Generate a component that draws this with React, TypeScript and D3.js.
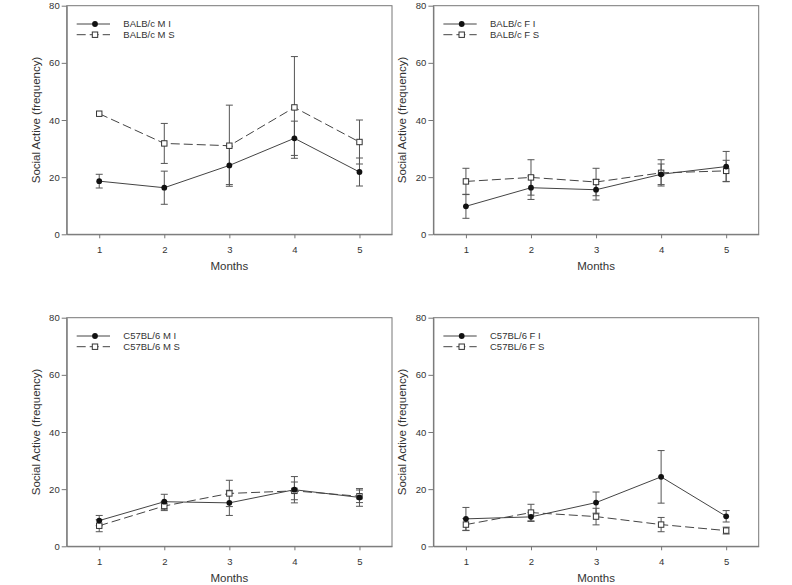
import React, { useEffect, useRef } from "react";
import * as d3 from "d3";

// months on the x axis
const months = [1, 2, 3, 4, 5];
const yTicks = [0, 20, 40, 60, 80];

// BALB/c male
const balbMI = [18.6, 16.3, 24.1, 33.6, 21.8];
const balbMIErr = [2.4, 5.8, 6.7, 6.0, 4.9];
const balbMS = [42.2, 31.8, 31.0, 44.4, 32.3];
const balbMSErr = [0, 7.0, 14.2, 17.8, 7.7];

// BALB/c female
const balbFI = [9.8, 16.3, 15.6, 21.0, 23.7];
const balbFIErr = [4.2, 4.1, 3.6, 3.6, 5.3];
const balbFS = [18.5, 19.9, 18.3, 21.5, 22.2];
const balbFSErr = [4.6, 6.2, 4.8, 4.6, 3.7];

// C57BL/6 male
const c57MI = [9.0, 15.6, 15.2, 19.8, 17.1];
const c57MIErr = [1.8, 2.6, 4.4, 4.6, 3.1];
const c57MS = [7.2, 14.1, 18.5, 19.4, 17.5];
const c57MSErr = [2.1, 1.6, 4.6, 3.1, 2.2];

// C57BL/6 female
const c57FI = [9.6, 10.3, 15.3, 24.3, 10.5];
const c57FIErr = [4.0, 1.6, 3.7, 9.2, 2.0];
const c57FS = [7.6, 11.8, 10.4, 7.6, 5.5];
const c57FSErr = [2.1, 2.9, 2.9, 2.5, 1.2];

const panels = [
  { col: 0, row: 0, names: ["BALB/c M I", "BALB/c M S"], inf: [balbMI, balbMIErr], sal: [balbMS, balbMSErr] },
  { col: 1, row: 0, names: ["BALB/c F I", "BALB/c F S"], inf: [balbFI, balbFIErr], sal: [balbFS, balbFSErr] },
  { col: 0, row: 1, names: ["C57BL/6 M I", "C57BL/6 M S"], inf: [c57MI, c57MIErr], sal: [c57MS, c57MSErr] },
  { col: 1, row: 1, names: ["C57BL/6 F I", "C57BL/6 F S"], inf: [c57FI, c57FIErr], sal: [c57FS, c57FSErr] },
];

const FONT = "Arial, 'Liberation Sans', sans-serif";

export default function App() {
  const ref = useRef<SVGSVGElement>(null);

  useEffect(() => {
    const svg = d3.select(ref.current);
    svg.selectAll("*").remove();

    const pw = 325.3,
      ph = 228.6;

    panels.forEach((p) => {
      const left = 66.7 + p.col * 366.7;
      const top = 5.7 + p.row * 312;
      const x = d3.scaleLinear().domain([0.5, 5.5]).range([left, left + pw]);
      const y = d3.scaleLinear().domain([0, 80]).range([top + ph, top]);
      const g = svg.append("g");

      // frame
      g.append("rect")
        .attr("x", left)
        .attr("y", top)
        .attr("width", pw)
        .attr("height", ph)
        .attr("fill", "none")
        .attr("stroke", "#777")
        .attr("stroke-width", 1);

      const yAxis = g
        .append("g")
        .attr("transform", "translate(" + left + ",0)")
        .call(d3.axisLeft(y).tickValues(yTicks).tickSize(5).tickSizeOuter(0).tickPadding(2));
      const xAxis = g
        .append("g")
        .attr("transform", "translate(0," + (top + ph) + ")")
        .call(d3.axisBottom(x).tickValues(months).tickFormat(d3.format("d")).tickSize(4).tickSizeOuter(0).tickPadding(8));
      [yAxis, xAxis].forEach((a) => {
        a.select(".domain").attr("stroke", "#777");
        a.selectAll(".tick line").attr("stroke", "#777");
        a.selectAll(".tick text").attr("fill", "#333").attr("font-size", 9.5).attr("font-family", FONT);
      });

      g.append("text")
        .attr("x", left + pw / 2)
        .attr("y", top + ph + 36)
        .attr("text-anchor", "middle")
        .attr("font-family", FONT)
        .attr("font-size", 11.5)
        .attr("fill", "#333")
        .text("Months");

      g.append("text")
        .attr("transform", "translate(" + (left - 27) + "," + (top + ph / 2) + ") rotate(-90)")
        .attr("text-anchor", "middle")
        .attr("font-family", FONT)
        .attr("font-size", 11.5)
        .attr("fill", "#333")
        .text("Social Active (frequency)");

      const series = [
        { vals: p.sal[0], errs: p.sal[1], dash: "9,4", filled: false },
        { vals: p.inf[0], errs: p.inf[1], dash: null, filled: true },
      ];

      series.forEach((s) => {
        months.forEach((m, i) => {
          const e = s.errs[i];
          if (e <= 0) return;
          const cx = x(m);
          g.append("line")
            .attr("x1", cx).attr("x2", cx)
            .attr("y1", y(s.vals[i] - e)).attr("y2", y(s.vals[i] + e))
            .attr("stroke", "#555");
          [s.vals[i] - e, s.vals[i] + e].forEach((v) => {
            g.append("line")
              .attr("x1", cx - 3.5).attr("x2", cx + 3.5)
              .attr("y1", y(v)).attr("y2", y(v))
              .attr("stroke", "#555");
          });
        });
      });

      series.forEach((s) => {
        const line = d3
          .line<number>()
          .x((d, i) => x(months[i]))
          .y((d) => y(d));
        g.append("path")
          .attr("d", line(s.vals))
          .attr("fill", "none")
          .attr("stroke", "#444")
          .attr("stroke-width", 1)
          .attr("stroke-dasharray", s.dash);
      });

      series.forEach((s) => {
        s.vals.forEach((v, i) => {
          if (s.filled) {
            g.append("circle").attr("cx", x(months[i])).attr("cy", y(v)).attr("r", 2.9).attr("fill", "#111");
          } else {
            g.append("rect")
              .attr("x", x(months[i]) - 2.7)
              .attr("y", y(v) - 2.7)
              .attr("width", 5.4)
              .attr("height", 5.4)
              .attr("fill", "#fff")
              .attr("stroke", "#333");
          }
        });
      });

      // legend
      const lx1 = left + 10,
        lx2 = left + 43.3,
        lm = left + 28.3;
      [0, 1].forEach((k) => {
        const ly = top + 18.3 + k * 10.7;
        g.append("line")
          .attr("x1", lx1).attr("x2", lx2).attr("y1", ly).attr("y2", ly)
          .attr("stroke", "#444")
          .attr("stroke-dasharray", k === 1 ? "9,4" : null);
        if (k === 0) {
          g.append("circle").attr("cx", lm).attr("cy", ly).attr("r", 2.9).attr("fill", "#111");
        } else {
          g.append("rect")
            .attr("x", lm - 2.7).attr("y", ly - 2.7).attr("width", 5.4).attr("height", 5.4)
            .attr("fill", "#fff").attr("stroke", "#333");
        }
        g.append("text")
          .attr("x", left + 56.6)
          .attr("y", ly + 3.4)
          .attr("font-family", FONT)
          .attr("font-size", 9.5)
          .attr("fill", "#333")
          .text(p.names[k]);
      });
    });
  }, []);

  return (
    <svg
      ref={ref}
      width={792}
      height={585}
      style={{ position: "absolute", left: 0, top: 0, background: "#fff" }}
    />
  );
}
